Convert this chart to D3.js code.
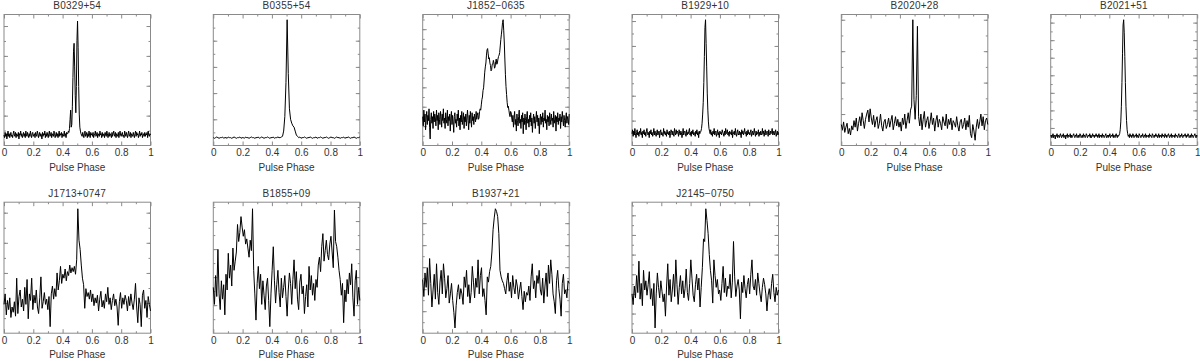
<!DOCTYPE html>
<html>
<head>
<meta charset="utf-8">
<script src="https://cdn.jsdelivr.net/npm/d3@7"></script>
<style>
  body { margin: 0; background: #fff; }
  svg text { font-family: "Liberation Sans", Arial, sans-serif; font-size: 10px; fill: #333; }
</style>
</head>
<body>
<div id="chart"></div>
<script>
/* CONSTANTS */
const width = 1200,
  height = 361,
  panelW = 146.5,
  panelH = 131;

// left edge of each column, top edge of each row
const colX = [4, 213.3, 422.7, 632, 841.3, 1050.7];
const rowY = [14.5, 202.2];

/* DATA */
// pulsar names, in drawing order (row 1 then row 2)
const names = ["B0329+54", "B0355+54", "J1852\u22120635", "B1929+10", "B2020+28", "B2021+51",
  "J1713+0747", "B1855+09", "B1937+21", "J2145\u22120750"];

const xTickLabels = ["0", "0.2", "0.4", "0.6", "0.8", "1"];

// profiles, intensity in % of plot height; bins spread evenly over phase 0..1
const b0329 = [
  8,6,10,7,9,5,8,11,7,9, 6,8,10,7,8,6,9,11,8,7, 10,6,9,8,7,10,5,9,8,11,
  7,9,6,8,10,7,9,6,11,8, 7,10,8,6,9,7,11,8,6,9, 10,7,8,9,6,10,8,7,11,9,
  6,8,10,7,9,8,5,10,7,9, 8,11,6,9,7,10,8,6,9,11, 7,8,10,6,9,8,7,11,9,6,
  8,10,7,9,6,8,11,7,9,8, 10,6,9,7,8,11,7,9,6,10,9,
  9,11,10,13,20,27,14,16,30,52,72,78,60,38,25,45,80,95,75,45,24,14,11,9,8,
  7,10,8,6,9,11,7,8,10,6, 9,7,11,8,6,10,8,9,7,10, 6,8,9,11,7,8,10,6,9,8,
  7,11,8,9,6,10,7,8,9,6, 10,8,7,11,9,6,8,10,7,9, 8,6,10,7,9,11,8,7,10,6,
  9,8,7,10,6,9,11,8,7,9, 10,7,8,6,11,9,7,10,8,6, 9,11,7,8,10,6,9,8,7,10,
  8,6,9,11,7,10,8,9,6,8, 11,7,9,8,10,6,8,9,7,10, 7,9,8,10,6,11,8,7,9,8];

const b0355 = [
  6,5.5,6,6.5,6,5.5,6,6,6.5,5.5, 6,6,5.5,6.5,6,6,5.5,6,6.5,6,
  5.5,6,6,6.5,5.5,6,6,5.5,6.5,6, 6,5.5,6,6.5,6,6,5.5,6,6,6.5,
  5.5,6,6.5,6,5.5,6,6,6.5,6,5.5, 6,6,6.5,5.5,6,6,6.5,6,6,
  6.5,7,11,22,48,96,55,28,20,17,15,14,11,8,7,
  6,6.5,5.5,6,6,6.5,6,5.5,6,6, 6.5,6,5.5,6,6,6.5,5.5,6,6,6.5,
  6,5.5,6,6,6.5,6,5.5,6,6.5,6, 6,5.5,6,6.5,6,6,5.5,6,6,6.5,
  5.5,6,6,6.5,6,5.5,6,6,6.5,6, 5.5,6,6,6.5];

const j1852 = [
  22,15,27,18,24,12,21,26,16,23, 19,28,14,5,20,25,17,22,13,26,
  18,24,21,15,27,19,23,12,25,20, 16,26,22,14,24,19,28,17,21,13,
  25,20,17,27,15,22,19,24,11,21, 26,16,23,18,10,22,25,17,20,14,
  24,19,27,15,21,12,23,18,26,16, 20,25,13,22,18,24,15,21,27,19,
  12,23,17,26,20,14,25,19,22,16, 24,21,18,26,20,23,
  25,20,21,26,28,27,31,35,37,42, 44,50,56,60,63,69,73,74,70,66,
  67,63,61,57,58,62,62,65,63,59, 60,64,66,62,63,66,68,69,71,76,
  81,85,89,94,96,88,79,66,54,45, 39,33,29,30,27,24,22,26,25,21,
  18,23,14,21,26,16,20,11,24,19, 15,22,27,17,20,13,23,18,25,9,
  21,16,24,19,12,22,26,17,20,14, 23,18,25,15,21,10,19,24,17,22,
  13,20,26,18,23,15,21,9,19,24, 16,22,18,25,14,21,19,27,17,20,
  12,23,18,22,15,25,20,16,24,19, 21,14,26,17,20,23,11,22,18,25,
  16,21,19,24,13,22,18,26,20,15, 23,19,14,21,25,17,22,20,16,24];

const b1929 = [
  9,12,7,11,8,13,9,6,10,12, 8,10,7,11,9,13,8,10,6,11, 9,12,8,10,7,11,13,9,8,10,
  6,11,9,12,8,10,7,9,13,8, 11,9,7,10,12,8,9,11,6,10, 12,8,10,9,7,13,9,11,8,10,
  7,12,9,10,8,11,6,9,12,10, 8,11,9,7,13,10,8,12,9,11, 10,7,12,9,8,11,10,6,9,13,
  8,10,11,9,7,12,8,10,9,11, 13,8,10,7,11,9,12,8,10,9, 7,11,9,12,8,10,6,11,9,10,
  11,13,17,24,33,48,68,90,96,78,60,40,27,18,13,11,
  9,12,8,10,7,11,9,13,8,10, 11,7,9,12,8,10,6,11,9,10, 8,12,10,9,7,11,8,13,9,10,
  12,8,10,7,11,9,10,8,12,6, 10,9,11,8,13,9,7,10,12,8, 9,11,8,10,6,12,9,11,8,10,
  13,9,10,7,11,8,12,9,10,8, 10,12,7,9,11,8,10,13,9,7, 11,8,10,9,12,7,10,8,11,9,
  8,13,9,11,7,10,12,8,9,11, 10,7,12,9,8,11,9,10,13,8, 9,11,8,10,12,7,9,11,8,10];

const b2020 = [
  16,12,18,10,14,17,9,13,8,15, 12,19,14,21,11,17,22,15,25,19,
  13,20,24,27,18,28,21,16,23,14, 19,22,13,17,24,15,11,18,20,13,
  16,21,14,19,23,12,17,22,15,20, 14,18,11,21,16,24,13,19,25,17,27,
  30,96,35,20,38,91,22,
  15,24,12,20,26,14,19,22,13,18, 25,16,21,11,19,23,14,20,17,12,
  22,18,15,24,13,20,16,21,12,19, 17,14,22,15,11,18,20,13,16,21,
  12,19,14,23,9,6,16,11,4,14, 20,13,18,24,15,22,12,19,21,16];

const b2021 = [
  7,8,6,7,9,6,8,7,5,8, 7,9,6,8,7,6,8,9,7,6, 8,7,9,6,7,8,5,8,7,9,
  6,8,7,7,9,6,8,6,7,8, 9,7,6,8,7,9,6,7,8,6, 7,9,8,6,7,8,6,9,7,8,
  6,7,9,8,6,7,8,7,9,6, 8,6,7,9,7,8,6,8,7,9, 7,8,6,7,9,6,8,7,8,6,
  9,7,8,6,7,8,9,6,7,8, 6,8,7,9,6,7,8,7,9,6, 8,7,6,8,9,7,6,8,7,
  8,9,12,18,30,48,70,92,96,86,68,48,30,19,12,9,
  7,8,6,9,7,8,6,7,9,8, 6,7,8,7,9,6,8,7,6,9, 8,7,6,8,7,9,7,6,8,7,
  9,6,8,7,7,8,6,9,7,8, 7,6,9,8,7,6,8,7,9,7, 8,6,7,9,6,8,7,8,6,9,
  7,8,7,6,9,7,8,6,7,8, 9,7,6,8,7,9,6,8,7,7, 8,6,9,7,8,7,6,8,9,7,
  6,8,7,9,7,6,8,7,8,9, 7,6,8,7,9,8,6,7,8,6, 9,7,8,6,7,8,9,7,6,8,7];

const j1713 = [
  22,30,14,25,18,27,12,20,16,24, 13,42,15,28,33,20,26,17,35,22,
  41,11,30,25,42,18,29,23,33,20, 15,27,43,19,24,31,22,26,18,28,
  5,30,36,26,34,28,46,33,40,51, 38,45,42,49,40,47,44,52,46,50,
  47,51,45,56,95,71,64,52,42,37, 19,34,28,31,26,33,24,30,21,27,
  23,29,17,26,32,20,25,19,30,24, 35,22,27,18,25,30,21,26,20,6,
  24,31,19,27,22,29,25,17,28,21, 30,23,18,26,38,20,8,27,22,5,
  29,33,19,25,12,28,22,17];

const b1855 = [
  35,22,44,28,64,30,18,40,26,37, 14,45,33,61,42,52,36,65,48,55,
  62,83,70,77,89,81,74,79,68,72, 65,58,71,63,95,48,30,10,38,51,
  34,45,22,40,29,18,36,42,25,5, 30,48,66,40,23,37,48,31,20,42,
  27,35,44,28,13,33,46,38,22,41, 56,34,47,26,18,39,45,30,36,15,
  28,37,20,51,33,44,29,38,25,41, 35,52,58,47,66,76,55,63,71,60,
  56,68,74,62,50,94,70,66,58,48, 41,29,38,8,33,24,41,30,46,37,
  53,27,13,40,48,22,35,25];

const b1937 = [
  41,28,46,35,50,29,57,38,20,33, 45,26,53,31,22,39,48,30,53,42,
  27,34,44,23,30,38,25,16,4,21, 31,37,26,34,30,22,43,35,48,28,
  37,23,31,51,39,27,42,35,56,30, 44,50,28,34,25,14,43,39,47,51,
  62,79,88,95,93,89,76,48,43,40, 38,34,30,40,46,32,39,27,44,35,
  30,41,36,26,33,39,28,18,32,24, 31,29,36,25,43,53,34,40,27,44,
  38,48,33,29,42,23,36,46,28,52, 38,56,45,30,24,15,40,48,34,26,
  13,38,45,30,33,27,40,38];

const j2145 = [
  30,22,36,27,44,31,55,26,38,21, 48,33,40,29,37,47,26,34,21,38,
  4,30,46,35,27,40,32,24,30,13, 36,53,29,41,24,33,45,28,56,37,
  22,35,44,30,40,27,34,49,31,25, 38,56,42,29,24,37,45,33,42,20,
  35,50,72,70,95,86,76,60,48,40, 23,56,44,35,41,30,33,25,38,51,
  31,42,28,36,34,45,27,39,70,43, 28,36,41,33,11,39,31,44,34,27,
  37,42,30,45,56,36,33,41,29,46, 38,30,24,35,42,37,30,17,29,34,
  26,38,45,31,24,35,29,33];

const profiles = [b0329, b0355, j1852, b1929, b2020, b2021, j1713, b1855, b1937, j2145];

// spacing of the unlabelled y ticks, in % of plot height
const yTickStep = [11.4, 10, 7.4, 9.5, 12, 6.7, 11.5, 10.7, 8.4, 7.5];

/* DRAW */
const svg = d3.select("#chart")
  .append("svg")
  .attr("width", width)
  .attr("height", height);

const xScale = d3.scaleLinear().domain([0, 1]).range([0, panelW]);
const yScale = d3.scaleLinear().domain([0, 100]).range([panelH, 0]);

const frameColor = "#8a8a8a";

profiles.forEach((data, k) => {
  const col = k < 6 ? k : k - 6;
  const row = k < 6 ? 0 : 1;

  const g = svg.append("g")
    .attr("transform", `translate(${colX[col]}, ${rowY[row]})`);

  // x ticks: majors every 0.2 (labelled on bottom), minors every 0.1
  const majors = [0, 0.2, 0.4, 0.6, 0.8, 1];
  const minors = d3.range(0.1, 1, 0.2);

  const addAxis = (axis, tr) => {
    const a = g.append("g").attr("transform", tr).call(axis);
    a.select(".domain").remove();
    a.selectAll("line").attr("stroke", frameColor);
    return a;
  };

  addAxis(d3.axisBottom(xScale).tickValues(minors).tickSize(-2).tickFormat(""), `translate(0,${panelH})`);
  const bottom = addAxis(d3.axisBottom(xScale).tickValues(majors).tickSize(-4).tickPadding(3.6)
    .tickFormat((d, i) => xTickLabels[i]), `translate(0,${panelH})`);
  bottom.selectAll("text").attr("fill", "#333").style("font-size", "10px");

  addAxis(d3.axisTop(xScale).tickValues(minors).tickSize(-2).tickFormat(""), "translate(0,0)");
  addAxis(d3.axisTop(xScale).tickValues(majors).tickSize(-4).tickFormat(""), "translate(0,0)");

  // y ticks, no labels
  const step = yTickStep[k];
  const yMinor = d3.range(step, 100, step);
  const yMajor = yMinor.filter((d, i) => i % 2 === 1);
  addAxis(d3.axisLeft(yScale).tickValues(yMinor).tickSize(-2).tickFormat(""), "translate(0,0)");
  addAxis(d3.axisLeft(yScale).tickValues(yMajor).tickSize(-4).tickFormat(""), "translate(0,0)");
  addAxis(d3.axisRight(yScale).tickValues(yMinor).tickSize(-2).tickFormat(""), `translate(${panelW},0)`);
  addAxis(d3.axisRight(yScale).tickValues(yMajor).tickSize(-4).tickFormat(""), `translate(${panelW},0)`);

  // frame
  g.append("rect")
    .attr("x", 0).attr("y", 0)
    .attr("width", panelW).attr("height", panelH)
    .attr("fill", "none")
    .attr("stroke", frameColor)
    .attr("stroke-width", 1);

  // profile
  const n = data.length;
  const line = d3.line()
    .x((d, i) => xScale(i / (n - 1)))
    .y(d => yScale(d));

  g.append("path")
    .datum(data)
    .attr("d", line)
    .attr("fill", "none")
    .attr("stroke", "#000")
    .attr("stroke-width", 1)
    .attr("stroke-linejoin", "round");

  // title and x label
  g.append("text")
    .attr("x", panelW / 2)
    .attr("y", -5.5)
    .attr("text-anchor", "middle")
    .style("letter-spacing", "0.25px")
    .text(names[k]);

  g.append("text")
    .attr("x", panelW / 2)
    .attr("y", panelH + 25)
    .attr("text-anchor", "middle")
    .text("Pulse Phase");
});
</script>
</body>
</html>
